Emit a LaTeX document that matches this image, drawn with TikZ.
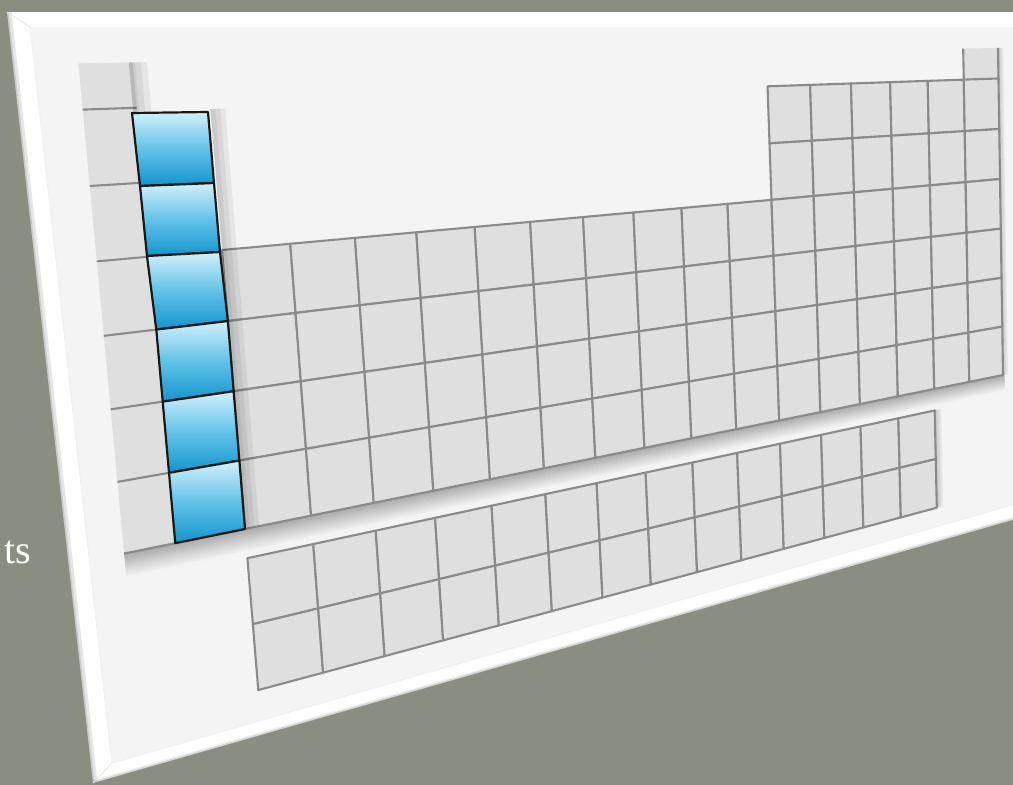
\documentclass[tikz,border=0pt]{standalone}
\usepackage{fontspec}
\newfontfamily\tsfont{Liberation Serif}
\definecolor{bgc}{HTML}{8A8E80}
\definecolor{facec}{HTML}{F4F4F4}
\definecolor{cellc}{HTML}{DFDFDF}
\definecolor{linec}{HTML}{8A8A8A}
\definecolor{ledgec}{HTML}{ACACAC}
\definecolor{bluetop}{HTML}{D2F0FB}
\definecolor{bluemid}{HTML}{62C2E8}
\definecolor{bluebot}{HTML}{1395CD}
% perspective map: grid (u = column line, v = row line) -> picture point
\newcommand\hpt[3]{%
  \pgfmathsetmacro\hpS{((#2)-2)/16}%
  \pgfmathsetmacro\hpT{((#3)-3)/4}%
  \pgfmathsetmacro\hpD{1+0.44282*\hpS+0.024633*\hpT}%
  \pgfmathsetmacro\hpX{(1220.82*\hpS+29.035*\hpT+222)/\hpD}%
  \pgfmathsetmacro\hpY{(8.26*\hpS+292.03*\hpT+250)/\hpD}%
  \coordinate (#1) at (\hpX,\hpY);%
}
\newcommand\pcell[5]{%
  \hpt{c1}{#1}{#2}\hpt{c2}{#3}{#2}\hpt{c3}{#3}{#4}\hpt{c4}{#1}{#4}%
  \path[#5] (c1)--(c2)--(c3)--(c4)--cycle;%
}
\tikzset{
  gcell/.style={fill=cellc, draw=linec, line width=2.1pt, line join=round},
  bcell/.style={top color=bluetop, bottom color=bluebot, middle color=bluemid, draw=black!90, line width=2.2pt, line join=round},
  gline/.style={draw=linec, line width=2.1pt},
  softshadow/.style={fill=black, fill opacity=0.06},
}
\begin{document}
\begin{tikzpicture}[x=1pt,y=-1pt]
\useasboundingbox (0,0) rectangle (1013,785);
\clip (0,0) rectangle (1013,785);
\fill[bgc] (0,0) rectangle (1013,785);
\node[anchor=base east, text=white, font=\tsfont\fontsize{40}{40}\selectfont, inner sep=0pt] (ts) at (31,563) {ts};
% board
\coordinate (oTL) at (7,12); \coordinate (oTR) at (1030,12);
\coordinate (oBR) at (1030,515); \coordinate (oBL) at (93,783);
\coordinate (iTL) at (30,27); \coordinate (iTR) at (1030,27);
\coordinate (iBR) at (1030,500); \coordinate (iBL) at (112,763);
\fill[white] (oTL)--(oTR)--(oBR)--(oBL)--cycle;
\begin{scope}
  \clip (oTL)--(oTR)--(oBR)--(oBL)--cycle;
  \draw[black, opacity=0.10, line width=9pt] (oTL)--(oBL);
  \draw[black, opacity=0.12, line width=3pt] (oTL)--(oBL)--(oBR);
  \draw[black, opacity=0.05, line width=6pt] (oBL)--(oBR);
\end{scope}
\fill[facec] (iTL)--(iTR)--(iBR)--(iBL)--cycle;
\draw[black!10, line width=0.8pt] (oTL)--(iTL) (oBL)--(iBL);
\draw[black!6, line width=1pt] (iTL)--(iBL)--(iBR);
% ledge shadow under the main table
\foreach \k in {0,...,9}{%
  \pgfmathsetmacro\va{7+0.035*\k}%
  \pgfmathsetmacro\vb{7+0.035*(\k+1)+0.006}%
  \pgfmathtruncatemacro\pc{100-11*\k}%
  \pcell{0.3}{\va}{18.05}{\vb}{fill=ledgec!\pc!facec}%
}
% right soft shadows
\foreach \w in {0.05,0.1,0.15}{\pcell{18}{0.4}{18+\w}{7}{softshadow}}
\foreach \w in {0.06,0.12,0.18}{\pcell{16}{7.43}{16+\w}{9.4}{softshadow}}
% group 1 column
\pcell{0.3}{0.4}{1}{7}{fill=cellc}
\foreach \v in {1,...,7}{\hpt{la}{0.3}{\v}\hpt{lb}{1}{\v}\draw[gline] (la)--(lb);}
\foreach \w in {0.08,0.16,0.24}{\pcell{0.95}{0.4}{0.95+\w}{1.05}{softshadow}}
% He
\pcell{17}{0.4}{18}{1}{fill=cellc}
\hpt{ha}{17}{0.4}\hpt{hb}{17}{1}\draw[gline] (ha)--(hb);
\hpt{hc}{18}{0.4}\hpt{hd}{18}{1}\draw[gline] (hc)--(hd);
% rows 2-3, groups 13-18
\foreach \v in {1,2}{\foreach \u in {12,...,17}{\pcell{\u}{\v}{\u+1}{\v+1}{gcell}}}
% rows 4-7, groups 3-18
\foreach \v in {3,...,6}{\foreach \u in {2,...,17}{\pcell{\u}{\v}{\u+1}{\v+1}{gcell}}}
% f-block
\foreach \u in {2,...,15}{\pcell{\u}{7.43}{\u+1}{8.41}{gcell}\pcell{\u}{8.41}{\u+1}{9.4}{gcell}}
% shadow of the raised blue column
\foreach \w in {0.07,0.14,0.21}{\pcell{2}{1.05}{2+\w}{7}{softshadow}}
% blue column (group 2), raised
\coordinate (b0l) at (132,113); \coordinate (b0r) at (208,112);
\coordinate (b1l) at (140,186); \coordinate (b1r) at (214,183);
\coordinate (b2l) at (147,256); \coordinate (b2r) at (220,252);
\hpt{b3l}{1}{4}\hpt{b3r}{2}{4}
\path[bcell] (b0l)--(b0r)--(b1r)--(b1l)--cycle;
\path[bcell] (b1l)--(b1r)--(b2r)--(b2l)--cycle;
\path[bcell] (b2l)--(b2r)--(b3r)--(b3l)--cycle;
\foreach \v in {4,...,6}{\pcell{1}{\v}{2}{\v+1}{bcell}}
\end{tikzpicture}
\end{document}
